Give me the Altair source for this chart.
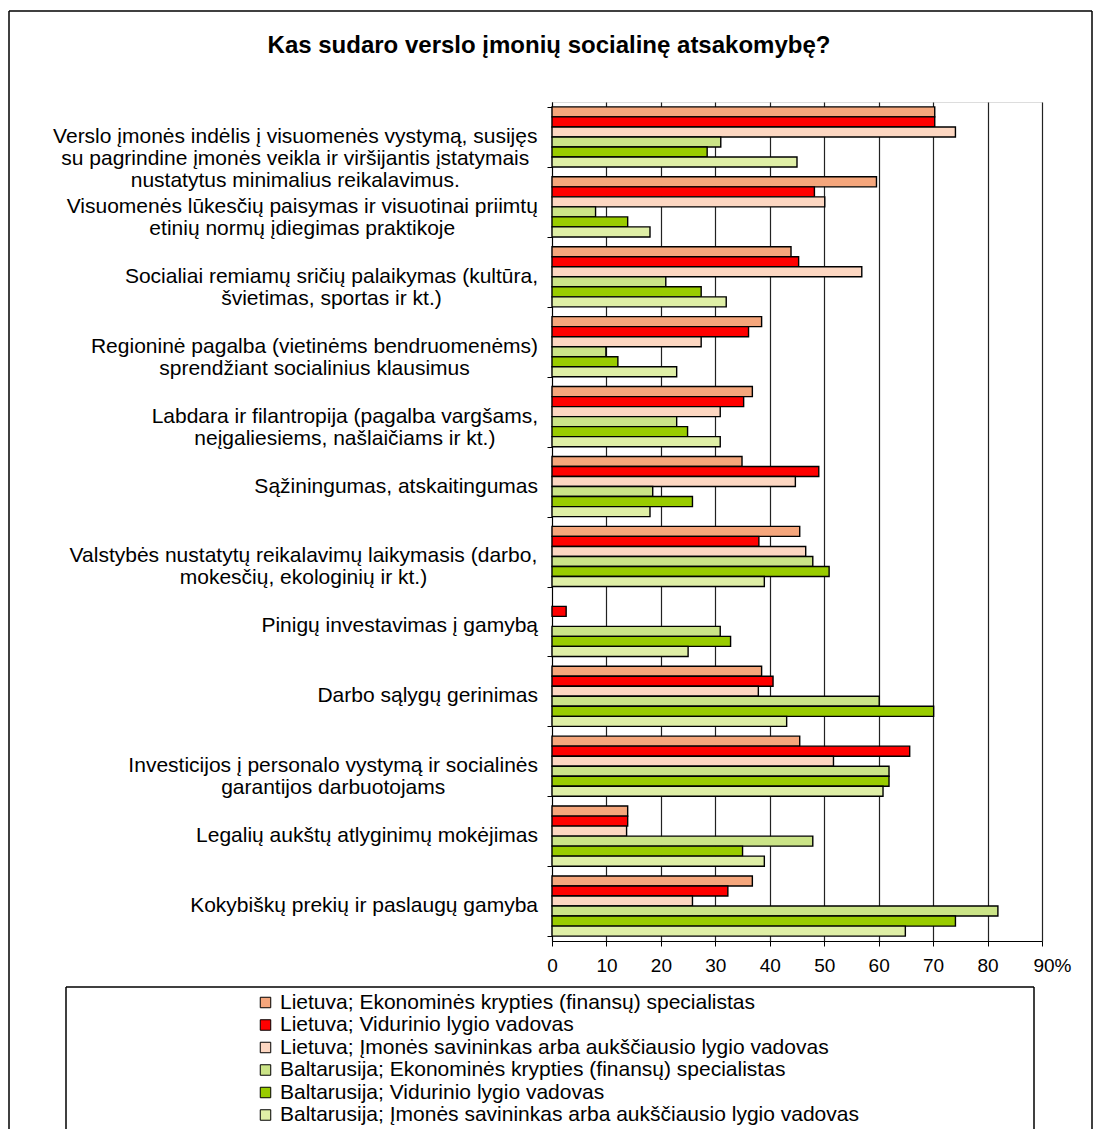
import altair as alt
import pandas as pd

FONT = "Liberation Sans"

title_text = "Kas sudaro verslo įmonių socialinę atsakomybę?"

category_lines = [
    ["Verslo įmonės indėlis į visuomenės vystymą, susijęs",
     "su pagrindine įmonės veikla ir viršijantis įstatymais",
     "nustatytus minimalius reikalavimus."],
    ["Visuomenės lūkesčių paisymas ir visuotinai priimtų",
     "etinių normų įdiegimas praktikoje"],
    ["Socialiai remiamų sričių palaikymas (kultūra,",
     "švietimas, sportas ir kt.)"],
    ["Regioninė pagalba (vietinėms bendruomenėms)",
     "sprendžiant socialinius klausimus"],
    ["Labdara ir filantropija (pagalba vargšams,",
     "neįgaliesiems, našlaičiams ir kt.)"],
    ["Sąžiningumas, atskaitingumas"],
    ["Valstybės nustatytų reikalavimų laikymasis (darbo,",
     "mokesčių, ekologinių ir kt.)"],
    ["Pinigų investavimas į gamybą"],
    ["Darbo sąlygų gerinimas"],
    ["Investicijos į personalo vystymą ir socialinės",
     "garantijos darbuotojams"],
    ["Legalių aukštų atlyginimų mokėjimas"],
    ["Kokybiškų prekių ir paslaugų gamyba"],
]

series = [
    "Lietuva; Ekonominės krypties (finansų) specialistas",
    "Lietuva; Vidurinio lygio vadovas",
    "Lietuva; Įmonės savininkas arba aukščiausio lygio vadovas",
    "Baltarusija; Ekonominės krypties (finansų) specialistas",
    "Baltarusija; Vidurinio lygio vadovas",
    "Baltarusija; Įmonės savininkas arba aukščiausio lygio vadovas",
]
colors = ["#F5A67C", "#FF0000", "#FDD7C2", "#CBE487", "#99CC00", "#DFEFA6"]

lt_ekon = [70.3, 59.6, 43.9, 38.5, 36.8, 34.9, 45.5, 0.0, 38.5, 45.5, 13.9, 36.8]
lt_vid = [70.3, 48.2, 45.3, 36.1, 35.2, 49.0, 38.0, 2.6, 40.6, 65.7, 13.9, 32.3]
lt_imon = [74.1, 50.1, 56.9, 27.4, 30.9, 44.7, 46.6, 0.0, 37.9, 51.7, 13.7, 25.8]
by_ekon = [31.0, 8.0, 20.9, 9.9, 22.9, 18.5, 47.9, 30.9, 60.1, 61.9, 47.9, 81.9]
by_vid = [28.5, 13.9, 27.4, 12.1, 24.9, 25.8, 50.9, 32.8, 70.1, 61.9, 35.0, 74.1]
by_imon = [45.0, 18.0, 32.0, 22.9, 30.9, 18.0, 39.0, 25.0, 43.1, 60.8, 39.0, 64.9]

x_ticks = [0, 10, 20, 30, 40, 50, 60, 70, 80, 90]

# ---------------------------------------------------------------- layout
W, H = 490, 839          # plot area
XMAX = 90
LABEL_FS = 21
LEGEND_FS = 21
TICK_FS = 19
LABEL_RIGHT = -14        # px, right edge of category label blocks

# Arial / Liberation Sans advance widths (1/1000 em) for centring label blocks
_w = {" ": 278, ",": 278, ".": 278, "(": 333, ")": 333, ";": 278, "-": 333, "?": 556}
for c in "abdeghnopqu": _w[c] = 556
for c in "ckszvxy": _w[c] = 500
for c in "ijl": _w[c] = 222
for c in "ft": _w[c] = 278
_w["r"] = 333; _w["m"] = 833; _w["w"] = 722
for c in "ABEKPSVXY": _w[c] = 667
for c in "CDHNRU": _w[c] = 722
for c in "GOQ": _w[c] = 778
_w["F"] = 611; _w["T"] = 611; _w["Z"] = 611; _w["I"] = 278; _w["J"] = 500
_w["L"] = 556; _w["M"] = 833; _w["W"] = 944
_acc = {"ą": "a", "č": "c", "ę": "e", "ė": "e", "į": "i", "š": "s", "ų": "u",
        "ū": "u", "ž": "z", "Į": "I", "Š": "S", "Ž": "Z"}


def text_px(s, fs):
    return sum(_w.get(_acc.get(ch, ch), 556) for ch in s) * fs / 1000.0


cat_keys = [" ".join(l) for l in category_lines]

rows = []
vals = [lt_ekon, lt_vid, lt_imon, by_ekon, by_vid, by_imon]
for s, v in zip(series, vals):
    for c, x in zip(cat_keys, v):
        if x > 0:
            rows.append({"cat": c, "series": s, "value": x})
df = pd.DataFrame(rows)

px_per_unit = W / XMAX
lab_df = pd.DataFrame({
    "cat": cat_keys,
    "text": ["\n".join(l) for l in category_lines],
    "cx": [(LABEL_RIGHT - max(text_px(t, LABEL_FS) for t in l) / 2) / px_per_unit
           for l in category_lines],
})

yscale = alt.Scale(paddingInner=0.14, paddingOuter=0.07)

bars = alt.Chart(df).mark_bar(stroke="black", strokeWidth=1.4).encode(
    y=alt.Y("cat:N", sort=cat_keys, scale=yscale,
            axis=alt.Axis(labels=False, title=None, tickBand="extent", tickSize=5,
                          tickColor="black", domainColor="black", grid=False)),
    yOffset=alt.YOffset("series:N", sort=series,
                        scale=alt.Scale(paddingInner=0, paddingOuter=0)),
    x=alt.X("value:Q", scale=alt.Scale(domain=[0, XMAX], nice=False, zero=True),
            axis=alt.Axis(values=x_ticks, title=None, grid=True, gridColor="#222222",
                          gridWidth=1.2, tickSize=5, tickColor="black",
                          domainColor="black", labelFontSize=TICK_FS, labelFont=FONT,
                          labelColor="black", labelPadding=10, labelFlush=False,
                          labelOffset={"condition": {"test": "datum.value == 90",
                                                     "value": 10}, "value": 0},
                          labelExpr="datum.value == 90 ? '90%' : datum.label")),
    color=alt.Color("series:N", sort=series,
                    scale=alt.Scale(domain=series, range=colors),
                    legend=alt.Legend(orient="none", legendX=-297, legendY=890,
                                      title=None, symbolType="square", symbolSize=110,
                                      symbolStrokeColor="black", symbolStrokeWidth=1,
                                      labelFontSize=LEGEND_FS, labelFont=FONT,
                                      labelColor="black", labelLimit=900,
                                      rowPadding=0.5, labelOffset=4)),
)

labels = alt.Chart(lab_df).mark_text(
    align="center", baseline="middle", fontSize=LABEL_FS, font=FONT,
    lineHeight=22, lineBreak="\n", color="black"
).encode(
    y=alt.Y("cat:N", sort=cat_keys),
    x=alt.X("cx:Q"),
    text="text:N",
)

title = alt.Chart(pd.DataFrame({"t": [title_text]})).mark_text(
    fontSize=24, fontWeight="bold", font=FONT, align="center", baseline="middle",
    color="black"
).encode(text="t:N", x=alt.value(-3), y=alt.value(-56))


def rule(x1, y1, x2, y2, w=1.5):
    return alt.Chart(pd.DataFrame({"a": [0]})).mark_rule(
        color="black", strokeWidth=w
    ).encode(x=alt.value(x1), x2=alt.value(x2), y=alt.value(y1), y2=alt.value(y2))


frame = [
    rule(-543, -91, 540, -91), rule(-543, -91, -543, 1027), rule(540, -91, 540, 1027),
    rule(-486, 885, 482, 885), rule(-486, 885, -486, 1027), rule(482, 885, 482, 1027),
]

chart = alt.layer(*frame, bars, labels, title).properties(
    width=W, height=H,
    padding={"left": 8, "top": 10, "right": 0, "bottom": 0},
).configure_view(stroke="black", strokeWidth=1.2).configure(background="white")

chart.save("out.html", embed_options={"renderer": "svg", "actions": False})
